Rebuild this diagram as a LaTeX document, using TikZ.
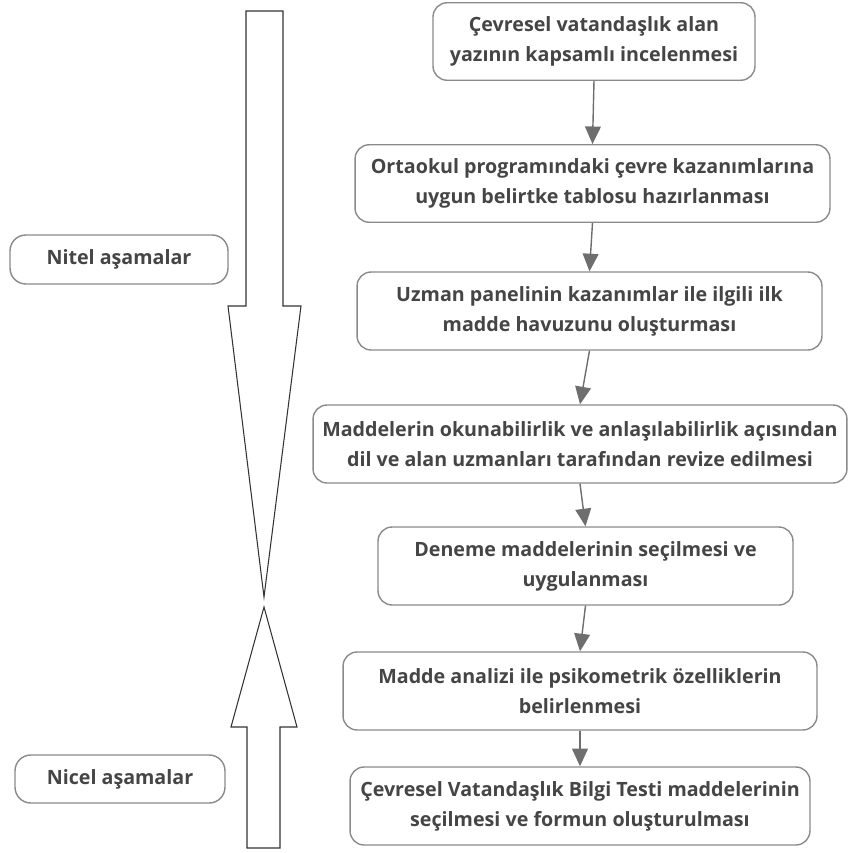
\documentclass[tikz,border=0pt]{standalone}
\usepackage{fontspec}
\setmainfont{Open Sans}
\usetikzlibrary{arrows.meta}
\definecolor{metin}{HTML}{454545}
\definecolor{cerceve}{HTML}{8A8A8A}
\definecolor{ok}{HTML}{6E6E6E}
\tikzset{
  adim/.style={draw=cerceve,rounded corners=8pt,line width=0.8pt,align=center,
    text=metin,font=\fontsize{11.2}{17}\selectfont\bfseries,inner sep=0pt},
  asama/.style={adim,rounded corners=9pt},
  buyukok/.style={draw=black!80,line width=0.6pt,fill=white}
}
\begin{document}
\begin{tikzpicture}[x=0.02cm,y=-0.02cm,>={Triangle[length=10pt,width=9pt]}]
  \useasboundingbox (0,0) rectangle (853,853);
  % sol: iki buyuk ok
  \draw[buyukok] (246,11)--(283,11)--(283,306)--(301,306)--(264,597)--(228,306)--(246,306)--cycle;
  \draw[buyukok] (247,848)--(280,848)--(280,727)--(297,727)--(264,607)--(231,727)--(247,727)--cycle;
  \node[asama,minimum width=4.36cm,minimum height=0.98cm] (nitel) at (119,259.5){Nitel aşamalar};
  \node[asama,minimum width=4.2cm,minimum height=0.96cm] (nicel) at (120,779){Nicel aşamalar};
  % sag: akis adimlari
  \node[adim,minimum width=6.44cm,minimum height=1.55cm] (k1) at (594,41.5)
    {Çevresel vatandaşlık alan\\yazının kapsamlı incelenmesi};
  \node[adim,minimum width=9.5cm,minimum height=1.55cm] (k2) at (592.5,183.5)
    {Ortaokul programındaki çevre kazanımlarına\\uygun belirtke tablosu hazırlanması};
  \node[adim,minimum width=9.3cm,minimum height=1.56cm] (k3) at (589.5,311)
    {Uzman panelinin kazanımlar ile ilgili ilk\\madde havuzunu oluşturması};
  \node[adim,minimum width=10.68cm,minimum height=1.56cm] (k4) at (580,444)
    {Maddelerin okunabilirlik ve anlaşılabilirlik açısından\\dil ve alan uzmanları tarafından revize edilmesi};
  \node[adim,minimum width=8.3cm,minimum height=1.56cm] (k5) at (585.5,566)
    {Deneme maddelerinin seçilmesi ve\\uygulanması};
  \node[adim,minimum width=9.48cm,minimum height=1.56cm] (k6) at (580,691)
    {Madde analizi ile psikometrik özelliklerin\\belirlenmesi};
  \node[adim,minimum width=9.2cm,minimum height=1.56cm] (k7) at (580,806)
    {Çevresel Vatandaşlık Bilgi Testi maddelerinin\\seçilmesi ve formun oluşturulması};
  % baglantilar
  \foreach \a/\b in {k1/k2,k2/k3,k3/k4,k4/k5,k5/k6,k6/k7}
    \draw[->,draw=ok,fill=ok,line width=0.8pt] (\a.south) -- (\b.north);
\end{tikzpicture}
\end{document}
